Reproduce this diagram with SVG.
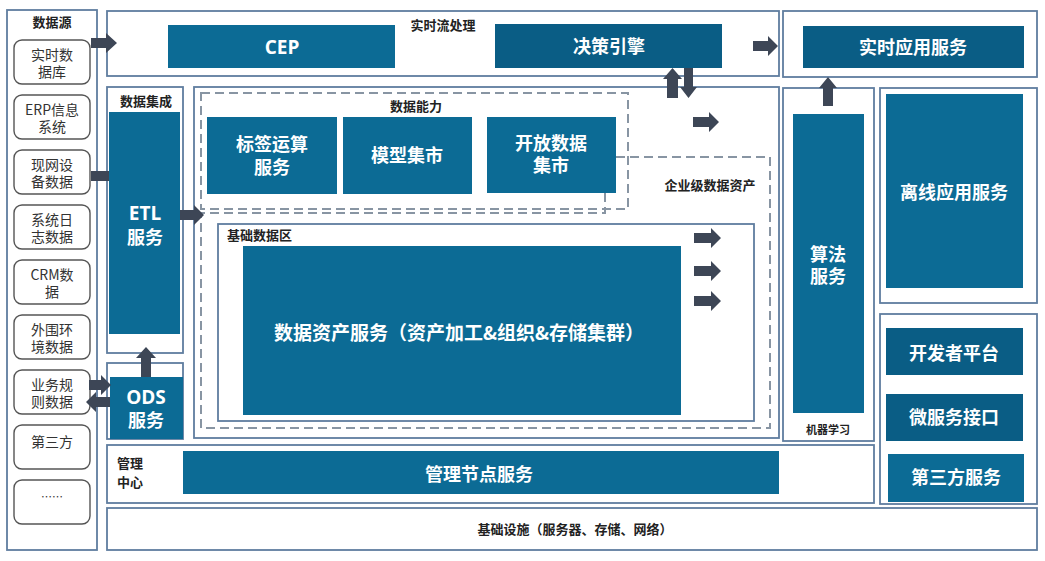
<svg xmlns="http://www.w3.org/2000/svg" width="1045" height="561" viewBox="0 0 1045 561">
<style>
.ct{fill:#fff;stroke:#5f7d9f;stroke-width:1.8}
.src{fill:#fff;stroke:#555;stroke-width:1.4}
.bx{fill:#0c6b95}
.bd{fill:#0a5d85}
.dash{fill:none;stroke:#8895a3;stroke-width:2;stroke-dasharray:9 5}
.arr{fill:#3d4656}
.w{font-family:"Noto Sans CJK SC","Liberation Sans",sans-serif;font-weight:bold;fill:#fff;text-anchor:middle;font-size:18px}
.wl{font-family:"Open Sans","Liberation Sans","Noto Sans CJK SC",sans-serif;font-weight:bold;font-size:19px}
.t{font-family:"Noto Sans CJK SC",sans-serif;font-weight:bold;fill:#222;font-size:13px;text-anchor:middle}
.s{font-family:"Noto Sans CJK SC",sans-serif;fill:#333;font-size:14px;text-anchor:middle}
</style>
<rect width="1045" height="561" fill="#fff"/>

<g id="datasource">
<rect class="ct" x="7" y="10" width="90" height="540"/>
<text class="t" x="52" y="27">数据源</text>
</g>
<g id="src-realtime"><rect class="src" x="14" y="40" width="76" height="44" rx="8"/><text class="s" x="52" y="60">实时数<tspan x="52" dy="17">据库</tspan></text></g>
<g id="src-erp"><rect class="src" x="14" y="95" width="76" height="44" rx="8"/><text class="s" x="52" y="115">ERP信息<tspan x="52" dy="17">系统</tspan></text></g>
<g id="src-device"><rect class="src" x="14" y="150" width="76" height="44" rx="8"/><text class="s" x="52" y="170">现网设<tspan x="52" dy="17">备数据</tspan></text></g>
<g id="src-log"><rect class="src" x="14" y="205" width="76" height="44" rx="8"/><text class="s" x="52" y="225">系统日<tspan x="52" dy="17">志数据</tspan></text></g>
<g id="src-crm"><rect class="src" x="14" y="260" width="76" height="44" rx="8"/><text class="s" x="52" y="280">CRM数<tspan x="52" dy="17">据</tspan></text></g>
<g id="src-env"><rect class="src" x="14" y="315" width="76" height="44" rx="8"/><text class="s" x="52" y="335">外围环<tspan x="52" dy="17">境数据</tspan></text></g>
<g id="src-rule"><rect class="src" x="14" y="370" width="76" height="44" rx="8"/><text class="s" x="52" y="390">业务规<tspan x="52" dy="17">则数据</tspan></text></g>
<g id="src-third"><rect class="src" x="14" y="425" width="76" height="44" rx="8"/><text class="s" x="52" y="447">第三方</text></g>
<g id="src-more"><rect class="src" x="14" y="480" width="76" height="44" rx="8"/><text class="s" x="52" y="501" style="font-size:11px">……</text></g>

<g id="realtime-stream">
<rect class="ct" x="107" y="11" width="672" height="65"/>
<text class="t" x="443" y="30">实时流处理</text>
</g>
<g id="cep"><rect class="bx" x="168" y="25" width="227" height="43"/><text class="w" x="282" y="54"><tspan class="wl">CEP</tspan></text></g>
<g id="decision"><rect class="bd" x="495" y="24" width="227" height="44"/><text class="w" x="609" y="53">决策引擎</text></g>

<g id="realtime-app">
<rect class="ct" x="783" y="11" width="254" height="66"/>
<rect class="bd" x="803" y="26" width="221" height="42"/><text class="w" x="913" y="54">实时应用服务</text>
</g>

<g id="integration">
<rect class="ct" x="107" y="87" width="76" height="266"/>
<text class="t" x="146" y="106">数据集成</text>
</g>
<g id="etl"><rect class="bx" x="109" y="112" width="71" height="222"/><text class="w" x="145" y="220"><tspan class="wl">ETL</tspan><tspan x="145" dy="24">服务</tspan></text></g>
<g id="ods-area"><rect class="ct" x="107" y="363" width="76" height="76"/></g>
<g id="ods"><rect class="bx" x="110" y="377" width="73" height="62"/><text class="w" x="146" y="404"><tspan class="wl">ODS</tspan><tspan x="146" dy="23">服务</tspan></text></g>

<g id="enterprise">
<rect class="ct" x="194" y="87" width="585" height="351"/>
<path class="dash" d="M616,157 H770 V428 H201 V213 H605 V193"/>
<text class="t" x="710" y="190">企业级数据资产</text>
</g>
<g id="capability">
<rect class="dash" x="201" y="93" width="427" height="116"/>
<text class="t" x="416" y="111">数据能力</text>
</g>
<g id="tag"><rect class="bx" x="207" y="117" width="130" height="77"/><text class="w" x="272" y="151">标签运算<tspan x="272" dy="23">服务</tspan></text></g>
<g id="model"><rect class="bx" x="343" y="117" width="129" height="77"/><text class="w" x="407" y="162">模型集市</text></g>
<g id="open-data"><rect class="bx" x="487" y="117" width="129" height="76"/><text class="w" x="551" y="150">开放数据<tspan x="551" dy="22">集市</tspan></text></g>
<g id="base-zone">
<rect class="ct" x="218" y="224" width="536" height="197"/>
<text class="t" x="227" y="240" style="text-anchor:start">基础数据区</text>
</g>
<g id="asset-service"><rect class="bx" x="243" y="246" width="438" height="169"/><text class="w" x="459" y="340" style="font-size:19px">数据资产服务（资产加工&amp;组织&amp;存储集群）</text></g>

<g id="ml">
<rect class="ct" x="783" y="88" width="91" height="353"/>
<text class="t" x="828" y="434" style="font-size:11px">机器学习</text>
</g>
<g id="algo"><rect class="bx" x="793" y="114" width="71" height="299"/><text class="w" x="828" y="261">算法<tspan x="828" dy="22">服务</tspan></text></g>

<g id="offline">
<rect class="ct" x="880" y="88" width="157" height="215"/>
<rect class="bx" x="886" y="94" width="137" height="194"/><text class="w" x="954" y="199">离线应用服务</text>
</g>
<g id="open-platform"><rect class="ct" x="880" y="314" width="157" height="190"/></g>
<g id="dev"><rect class="bd" x="886" y="328" width="137" height="47"/><text class="w" x="954" y="360">开发者平台</text></g>
<g id="micro"><rect class="bd" x="886" y="394" width="137" height="47"/><text class="w" x="954" y="424">微服务接口</text></g>
<g id="third-svc"><rect class="bx" x="888" y="454" width="136" height="48"/><text class="w" x="956" y="484">第三方服务</text></g>

<g id="mgmt">
<rect class="ct" x="107" y="445" width="767" height="58"/>
<text class="t" x="117" y="468" style="text-anchor:start">管理<tspan x="117" dy="19">中心</tspan></text>
<rect class="bx" x="183" y="451" width="596" height="43"/><text class="w" x="479" y="481">管理节点服务</text>
</g>
<g id="infra">
<rect class="ct" x="107" y="508" width="930" height="42"/>
<text class="t" x="575" y="534">基础设施（服务器、存储、网络）</text>
</g>

<g id="connectors">
<path class="arr" d="M91,38 H106 V33 L117,43 L106,53 V48 H91 Z"/>
<rect class="arr" x="91" y="171" width="18" height="10"/>
<path class="arr" d="M180,210 H194 V205 L204,215 L194,225 V220 H180 Z"/>
<path class="arr" d="M89,380 H101 V375 L111,385 L101,395 V390 H89 Z"/>
<path class="arr" d="M110,397 H96 V392 L86,402 L96,412 V407 H110 Z"/>
<path class="arr" d="M141,377 V358 H136 L146,347 L156,358 H151 V377 Z"/>
<path class="arr" d="M753,41 H768 V36 L778,46 L768,56 V51 H753 Z"/>
<path class="arr" d="M667,98 V79 H663 L672.5,68 L682,79 H678 V98 Z"/>
<path class="arr" d="M684,68 V87 H680 L688.5,98 L697,87 H693 V68 Z"/>
<path class="arr" d="M693,117 H709 V112 L719,122 L709,132 V127 H693 Z"/>
<path class="arr" d="M694,233 H711 V228 L721,238 L711,248 V243 H694 Z"/>
<path class="arr" d="M694,266 H711 V261 L721,271 L711,281 V276 H694 Z"/>
<path class="arr" d="M694,296 H711 V291 L721,301 L711,311 V306 H694 Z"/>
<path class="arr" d="M823,106 V88 H819 L828,77 L837,88 H833 V106 Z"/>
</g>
</svg>
